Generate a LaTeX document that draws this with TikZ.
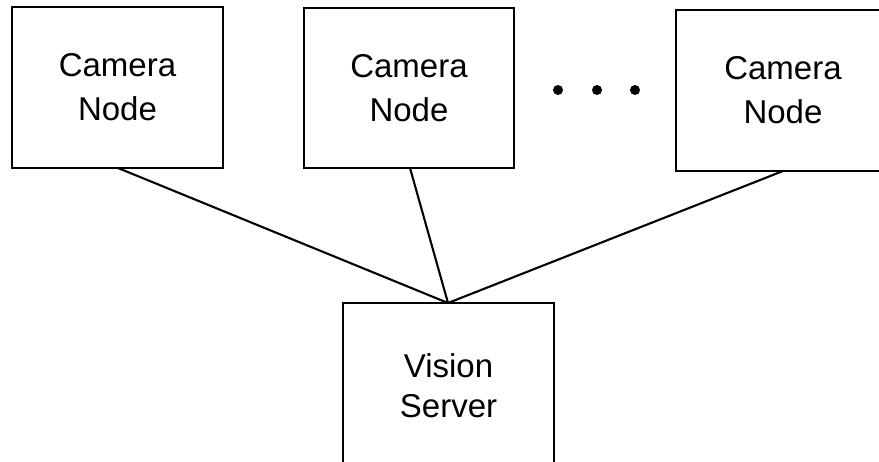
\documentclass[tikz,border=0pt]{standalone}
\usepackage{fontspec}
\setmainfont{Liberation Sans}
\begin{document}
\begin{tikzpicture}[x=1pt,y=-1pt,
  unit/.style={draw, line width=2.1pt, inner sep=0pt, align=center,
    font=\fontsize{33}{44}\selectfont},
  link/.style={line width=2.1pt},
  dot/.style={fill, circle, inner sep=0pt, minimum size=10pt}]
\useasboundingbox (0,0) rectangle (879,461);
\clip (0,0) rectangle (879,461);
% camera nodes
\node[unit, minimum width=211pt, minimum height=161pt] (cam1) at (117.5,87.5) {Camera\\Node};
\node[unit, minimum width=210pt, minimum height=160pt] (cam2) at (409,88) {Camera\\Node};
\node[unit, minimum width=214pt, minimum height=161pt] (cam3) at (783,90.5) {Camera\\Node};
% vision server, running past the lower edge
\node[unit, minimum width=211pt, minimum height=166pt,
  font=\fontsize{33}{40}\selectfont] (srv) at (448.5,386) {Vision\\Server};
% ellipsis between the second and third camera
\node[dot] (d1) at (558,90) {};
\node[dot] (d2) at (597,90) {};
\node[dot] (d3) at (635,90) {};
% connections
\coordinate (hub) at (448,303);
\coordinate (s1) at (118,168);
\coordinate (s2) at (410,168);
\coordinate (s3) at (783,171);
\draw[link] (s1) -- (hub);
\draw[link] (s2) -- (hub);
\draw[link] (s3) -- (hub);
\end{tikzpicture}
\end{document}
